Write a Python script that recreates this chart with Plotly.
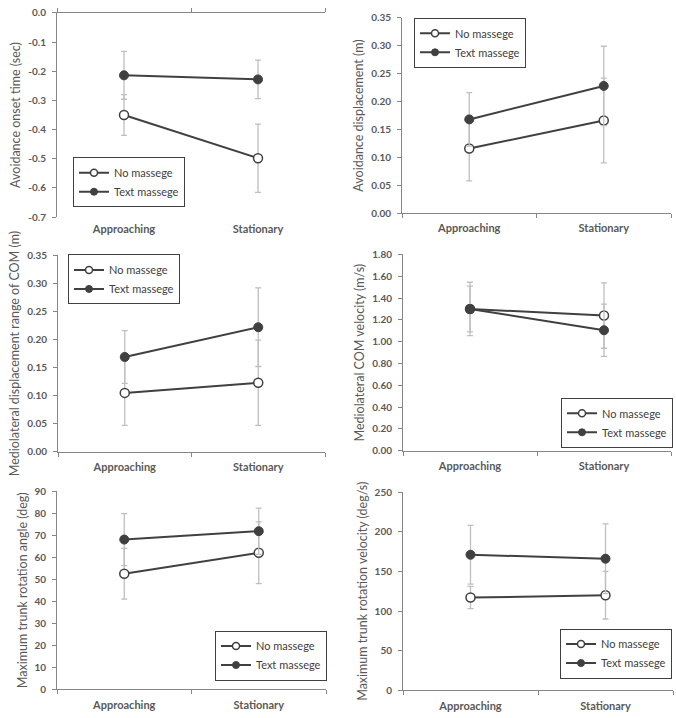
import plotly.graph_objects as go

# ---------------- data ----------------
categories = ["Approaching", "Stationary"]
series_names = ["No massege", "Text massege"]

# Panel 1: Avoidance onset time (sec)
onset_no = [-0.350, -0.498]
onset_no_err = [0.070, 0.117]
onset_text = [-0.214, -0.228]
onset_text_err = [0.082, 0.066]
onset_ticks = [0.0, -0.1, -0.2, -0.3, -0.4, -0.5, -0.6, -0.7]
onset_ticklabels = ["0.0", "-0.1", "-0.2", "-0.3", "-0.4", "-0.5", "-0.6", "-0.7"]

# Panel 2: Avoidance displacement (m)
disp_no = [0.116, 0.166]
disp_no_err = [0.058, 0.076]
disp_text = [0.168, 0.228]
disp_text_err = [0.048, 0.071]
disp_ticks = [0.00, 0.05, 0.10, 0.15, 0.20, 0.25, 0.30, 0.35]
disp_ticklabels = ["0.00", "0.05", "0.10", "0.15", "0.20", "0.25", "0.30", "0.35"]

# Panel 3: Mediolateral displacement range of COM (m)
mlrange_no = [0.105, 0.123]
mlrange_no_err = [0.058, 0.076]
mlrange_text = [0.169, 0.222]
mlrange_text_err = [0.047, 0.070]
mlrange_ticks = [0.00, 0.05, 0.10, 0.15, 0.20, 0.25, 0.30, 0.35]
mlrange_ticklabels = ["0.00", "0.05", "0.10", "0.15", "0.20", "0.25", "0.30", "0.35"]

# Panel 4: Mediolateral COM velocity (m/s)
mlvel_no = [1.30, 1.24]
mlvel_no_err = [0.21, 0.30]
mlvel_text = [1.30, 1.105]
mlvel_text_err = [0.245, 0.24]
mlvel_ticks = [0.0, 0.2, 0.4, 0.6, 0.8, 1.0, 1.2, 1.4, 1.6, 1.8]
mlvel_ticklabels = ["0.00", "0.20", "0.40", "0.60", "0.80", "1.00", "1.20", "1.40", "1.60", "1.80"]

# Panel 5: Maximum trunk rotation angle (deg)
angle_no = [52.5, 62.0]
angle_no_err = [11.5, 14.0]
angle_text = [68.0, 71.8]
angle_text_err = [11.8, 10.5]
angle_ticks = [0, 10, 20, 30, 40, 50, 60, 70, 80, 90]
angle_ticklabels = ["0", "10", "20", "30", "40", "50", "60", "70", "80", "90"]

# Panel 6: Maximum trunk rotation velocity (deg/s)
trvel_no = [117, 120]
trvel_no_err = [14, 30]
trvel_text = [171, 166]
trvel_text_err = [37, 44]
trvel_ticks = [0, 50, 100, 150, 200, 250]
trvel_ticklabels = ["0", "50", "100", "150", "200", "250"]

panels = [
    dict(title="Avoidance onset time (sec)", no=onset_no, no_err=onset_no_err,
         text=onset_text, text_err=onset_text_err, ticks=onset_ticks,
         ticklabels=onset_ticklabels, yrange=[-0.7, 0.0],
         xdom=[57, 325], ydom=[6, 214], legend=(73, 153)),
    dict(title="Avoidance displacement (m)", no=disp_no, no_err=disp_no_err,
         text=disp_text, text_err=disp_text_err, ticks=disp_ticks,
         ticklabels=disp_ticklabels, yrange=[0, 0.35],
         xdom=[402, 671], ydom=[11, 210], legend=(414, 11)),
    dict(title="Mediolateral displacement range of COM (m)", no=mlrange_no,
         no_err=mlrange_no_err, text=mlrange_text, text_err=mlrange_text_err,
         ticks=mlrange_ticks, ticklabels=mlrange_ticklabels, yrange=[0, 0.35],
         xdom=[58, 325], ydom=[253, 453], legend=(68, 252)),
    dict(title="Mediolateral COM velocity (m/s)", no=mlvel_no, no_err=mlvel_no_err,
         text=mlvel_text, text_err=mlvel_text_err, ticks=mlvel_ticks,
         ticklabels=mlvel_ticklabels, yrange=[0, 1.8],
         xdom=[403, 671], ydom=[252, 452], legend=(561, 398)),
    dict(title="Maximum trunk rotation angle (deg)", no=angle_no, no_err=angle_no_err,
         text=angle_text, text_err=angle_text_err, ticks=angle_ticks,
         ticklabels=angle_ticklabels, yrange=[0, 90],
         xdom=[57, 326], ydom=[493, 695], legend=(215, 635)),
    dict(title="Maximum trunk rotation velocity (deg/s)", no=trvel_no, no_err=trvel_no_err,
         text=trvel_text, text_err=trvel_text_err, ticks=trvel_ticks,
         ticklabels=trvel_ticklabels, yrange=[0, 250],
         xdom=[403, 673], ydom=[494, 696], legend=(560, 633)),
]

W, H = 676, 718
FONT = "Lato"
TXT = "#595959"
AX = "#868686"
LINE = "#404040"
ERR = "#BFBFBF"

fig = go.Figure()
layout = dict(
    width=W, height=H, margin=dict(l=0, r=0, t=0, b=0),
    paper_bgcolor="white", plot_bgcolor="white",
    font=dict(family=FONT, color=TXT, size=11),
    hovermode=False,
)

for i, p in enumerate(panels, start=1):
    sx = "" if i == 1 else str(i)
    xa, ya = "x" + sx, "y" + sx
    lg = "legend" if i == 1 else "legend" + str(i)

    fig.add_trace(go.Scatter(
        x=categories, y=p["no"], name=series_names[0], xaxis=xa, yaxis=ya,
        mode="lines+markers", showlegend=False,
        line=dict(color=LINE, width=2),
        marker=dict(symbol="circle", size=9, color="white",
                    line=dict(color=LINE, width=1.5)),
        error_y=dict(type="data", array=p["no_err"], symmetric=True,
                     color=ERR, thickness=1.3, width=3),
    ))
    fig.add_trace(go.Scatter(
        x=categories, y=p["text"], name=series_names[1], xaxis=xa, yaxis=ya,
        mode="lines+markers", showlegend=False,
        line=dict(color=LINE, width=2),
        marker=dict(symbol="circle", size=9, color=LINE,
                    line=dict(color=LINE, width=1)),
        error_y=dict(type="data", array=p["text_err"], symmetric=True,
                     color=ERR, thickness=1.3, width=3),
    ))
    # legend entries (smaller symbols, as in the original legend)
    fig.add_trace(go.Scatter(
        x=[None], y=[None], name=series_names[0], xaxis=xa, yaxis=ya,
        mode="lines+markers", legend=lg,
        line=dict(color=LINE, width=2),
        marker=dict(symbol="circle", size=7, color="white",
                    line=dict(color=LINE, width=1.5)),
    ))
    fig.add_trace(go.Scatter(
        x=[None], y=[None], name=series_names[1], xaxis=xa, yaxis=ya,
        mode="lines+markers", legend=lg,
        line=dict(color=LINE, width=2),
        marker=dict(symbol="circle", size=7, color=LINE,
                    line=dict(color=LINE, width=1)),
    ))

    x0, x1 = p["xdom"]
    y0, y1 = p["ydom"]
    top_axis = (i == 1)
    layout["xaxis" + sx] = dict(
        domain=[x0 / W, x1 / W], anchor=ya, type="category",
        categoryorder="array", categoryarray=categories,
        range=[-0.5, 1.5], tickson="boundaries",
        ticks="" if top_axis else "outside", ticklen=4, tickcolor=AX,
        showline=not top_axis, linecolor=AX, linewidth=1,
        showgrid=False, zeroline=False, fixedrange=True,
        tickfont=dict(family=FONT, size=11, color=TXT, weight="bold"),
        ticklabelstandoff=4 if top_axis else 5,
    )
    layout["yaxis" + sx] = dict(
        domain=[1 - y1 / H, 1 - y0 / H], anchor=xa,
        range=p["yrange"], tickvals=p["ticks"], ticktext=p["ticklabels"],
        ticks="outside", ticklen=4, tickcolor=AX,
        showline=True, linecolor=AX, linewidth=1,
        showgrid=False, zeroline=False, fixedrange=True,
        tickfont=dict(family=FONT, size=10, color=TXT, weight="bold"),
        ticklabelstandoff=4,
        title=dict(text=p["title"], standoff=4,
                   font=dict(family=FONT, size=12.5, color=TXT)),
    )
    lx, ly = p["legend"]
    layout[lg] = dict(
        x=lx / W, y=1 - ly / H, xanchor="left", yanchor="top",
        bgcolor="white", bordercolor=LINE, borderwidth=1,
        font=dict(family=FONT, size=11, color=LINE),
        itemwidth=30, tracegroupgap=0,
    )

# Panel 1: value axis crosses at 0 -> horizontal axis line drawn at the top
layout["xaxis7"] = dict(
    overlaying="x", anchor="y", side="top", range=[-0.5, 1.5],
    tickvals=[-0.5, 0.5, 1.5], showticklabels=False,
    ticks="outside", ticklen=4, tickcolor=AX,
    showline=True, linecolor=AX, linewidth=1,
    showgrid=False, zeroline=False, fixedrange=True,
)
fig.add_trace(go.Scatter(x=[], y=[], xaxis="x7", yaxis="y", showlegend=False))

fig.update_layout(**layout)
fig.write_html("out.html")
